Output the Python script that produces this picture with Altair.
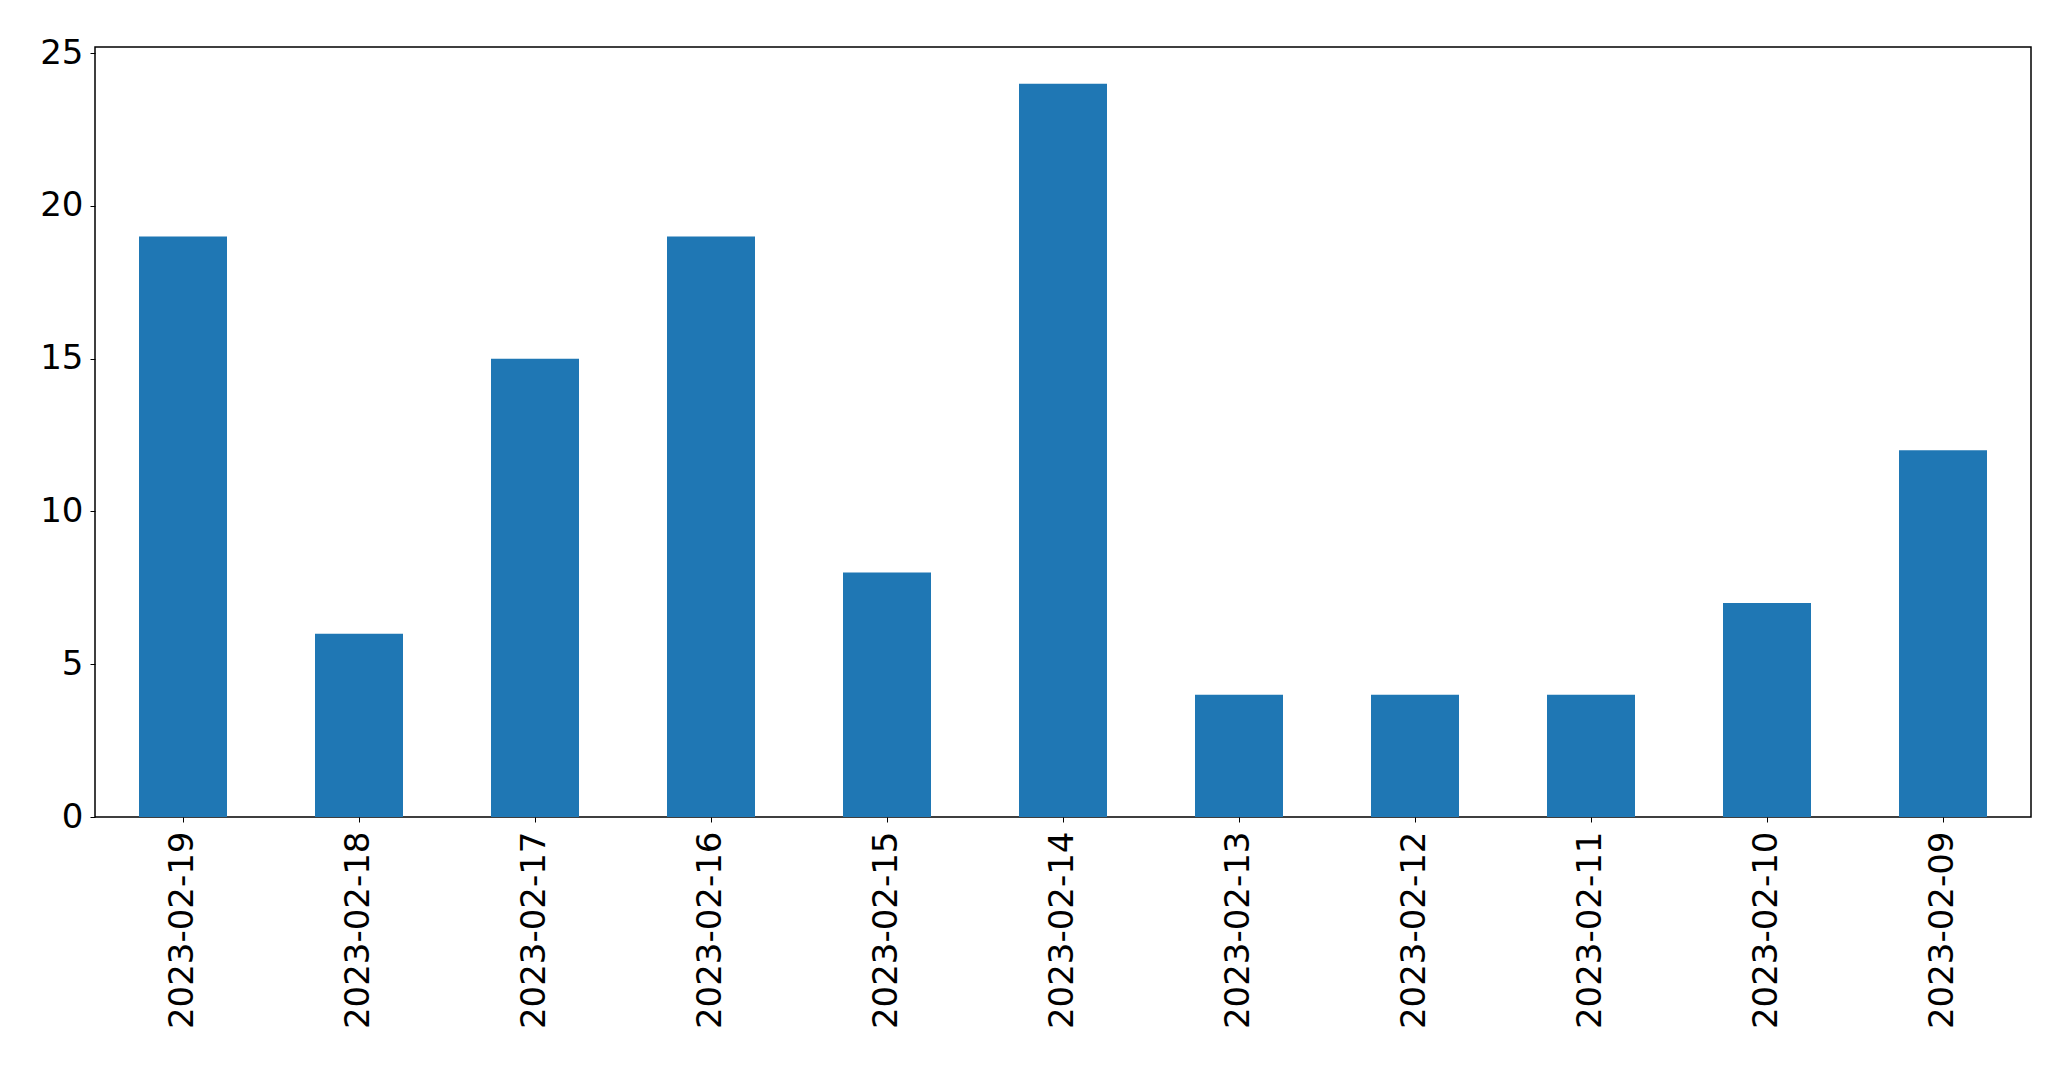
import altair as alt
import pandas as pd

dates = ["2023-02-19", "2023-02-18", "2023-02-17", "2023-02-16", "2023-02-15",
         "2023-02-14", "2023-02-13", "2023-02-12", "2023-02-11", "2023-02-10",
         "2023-02-09"]
counts = [19, 6, 15, 19, 8, 24, 4, 4, 4, 7, 12]
y_ticks = [0, 5, 10, 15, 20, 25]

df = pd.DataFrame({"date": dates, "count": counts})

chart = alt.Chart(df).mark_bar(color="#1f77b4").encode(
    x=alt.X("date:N", sort=None, title=None,
            scale=alt.Scale(paddingInner=0.5, paddingOuter=0.25),
            axis=alt.Axis(labelAngle=270, labelFontSize=34, labelFont="DejaVu Sans",
                          labelColor="black", tickColor="black", tickSize=5,
                          labelPadding=9, labelLimit=0, domain=False, grid=False)),
    y=alt.Y("count:Q", title=None,
            scale=alt.Scale(domain=[0, 25.2], nice=False, zero=True),
            axis=alt.Axis(values=y_ticks, labelFontSize=34, labelFont="DejaVu Sans",
                          labelColor="black", tickColor="black", tickSize=5,
                          labelPadding=7, domain=False, grid=False)),
).properties(
    width=1936, height=770,
    autosize=alt.AutoSizeParams(type="none"),
    padding={"left": 87, "top": 39, "right": 30, "bottom": 230},
).configure_view(stroke="black", strokeWidth=1.5)

chart.save("out.html", embed_options={"renderer": "svg", "actions": False})
